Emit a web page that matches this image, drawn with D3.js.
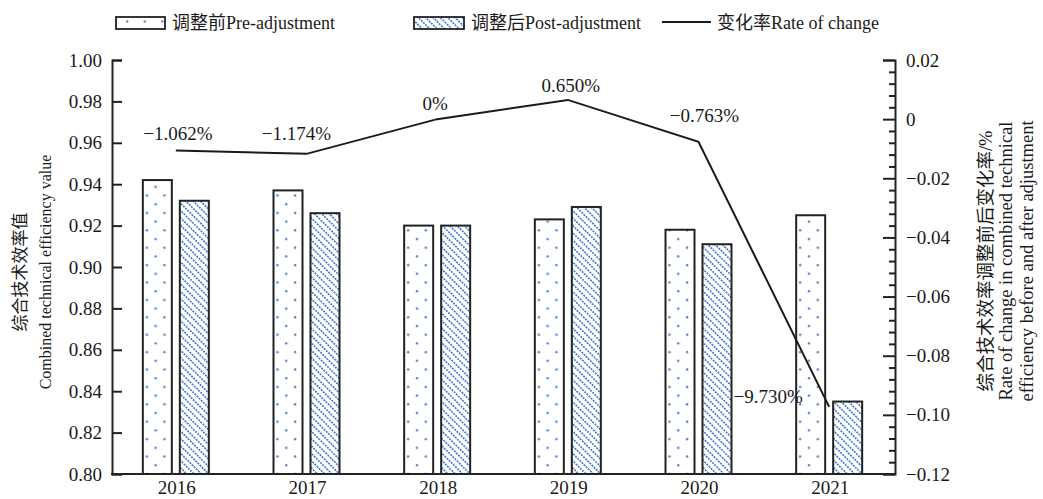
<!DOCTYPE html>
<html>
<head>
<meta charset="utf-8">
<script src="https://cdn.jsdelivr.net/npm/d3@7"></script>
<style>
  html, body { margin: 0; padding: 0; background: #fff; }
  svg { display: block; }
  text { font-family: "Liberation Serif", "Noto Sans CJK SC", serif; fill: #1a1a1a; }
</style>
</head>
<body>
<svg id="chart" width="1043" height="499"></svg>
<script>
// Combined technical efficiency before / after adjustment, 2016–2021
const years = ["2016", "2017", "2018", "2019", "2020", "2021"];
const preValues = [0.942, 0.937, 0.920, 0.923, 0.918, 0.925];
const postValues = [0.932, 0.926, 0.920, 0.929, 0.911, 0.835];
const changeRate = [-0.01062, -0.01174, 0, 0.0065, -0.00763, -0.0973];
const changeLabels = ["−1.062%", "−1.174%", "0%", "0.650%", "−0.763%", "−9.730%"];
const leftTicks = [0.80, 0.82, 0.84, 0.86, 0.88, 0.90, 0.92, 0.94, 0.96, 0.98, 1.00];
const rightTicks = [-0.12, -0.10, -0.08, -0.06, -0.04, -0.02, 0, 0.02];

const svg = d3.select("#chart");
const plot = { left: 112, right: 895, top: 60, bottom: 474 };

const x = d3.scaleBand().domain(years).range([110.5, 894.5]).padding(0);
const xInner = d3.scaleBand().domain(["pre", "post"]).range([0, 66]).paddingInner(0.216);
const yL = d3.scaleLinear().domain([0.80, 1.00]).range([plot.bottom, plot.top]);
const yR = d3.scaleLinear().domain([-0.12, 0.02]).range([plot.bottom, plot.top]);

// fill patterns
const defs = svg.append("defs");
const dots = defs.append("pattern").attr("id", "dots")
  .attr("patternUnits", "userSpaceOnUse").attr("width", 17.6).attr("height", 17.4);
dots.append("rect").attr("width", 17.6).attr("height", 17.4).attr("fill", "#fff");
dots.append("circle").attr("cx", 4).attr("cy", 4).attr("r", 1.2).attr("fill", "#4583cf");
dots.append("circle").attr("cx", 12.8).attr("cy", 12.7).attr("r", 1.2).attr("fill", "#4583cf");

const hatch = defs.append("pattern").attr("id", "hatch")
  .attr("patternUnits", "userSpaceOnUse").attr("width", 5.2).attr("height", 3)
  .attr("patternTransform", "rotate(-45)");
hatch.append("rect").attr("width", 5.2).attr("height", 3).attr("fill", "#fff");
hatch.append("line").attr("x1", 2.6).attr("x2", 2.6).attr("y1", 0).attr("y2", 3)
  .attr("stroke", "#3a77c8").attr("stroke-width", 1.6)
  .attr("stroke-dasharray", "2 1");

// bars
const groups = svg.append("g").selectAll("g").data(years).join("g")
  .attr("transform", d => `translate(${x(d) + x.bandwidth() / 2 - 33},0)`);

groups.append("rect")
  .attr("x", xInner("pre"))
  .attr("y", (d, i) => yL(preValues[i]))
  .attr("width", xInner.bandwidth())
  .attr("height", (d, i) => yL(0.80) - yL(preValues[i]))
  .attr("fill", "url(#dots)").attr("stroke", "#222").attr("stroke-width", 2);

groups.append("rect")
  .attr("x", xInner("post"))
  .attr("y", (d, i) => yL(postValues[i]))
  .attr("width", xInner.bandwidth())
  .attr("height", (d, i) => yL(0.80) - yL(postValues[i]))
  .attr("fill", "url(#hatch)").attr("stroke", "#222").attr("stroke-width", 2);

// axes
const fmtL = d3.format(".2f");
const fmtR = v => (v === 0 ? "0" : d3.format(".2f")(v));

const axL = svg.append("g").attr("transform", `translate(${plot.left},0)`)
  .call(d3.axisRight(yL).tickValues(leftTicks).tickSize(10).tickFormat(""));
const axR = svg.append("g").attr("transform", `translate(${plot.right},0)`)
  .call(d3.axisLeft(yR).tickValues(rightTicks).tickSize(12).tickFormat(""));
const axRminor = svg.append("g").attr("transform", `translate(${plot.right},0)`)
  .call(d3.axisLeft(yR).tickValues(d3.range(-0.12, 0.0201, 0.004)
      .filter(v => rightTicks.every(t => Math.abs(t - v) > 1e-6)))
    .tickSize(6).tickFormat(""));
[axL, axR, axRminor].forEach(a => {
  a.select(".domain").attr("stroke", "#222").attr("stroke-width", 2);
  a.selectAll(".tick line").attr("stroke", "#222").attr("stroke-width", 2);
});
axRminor.select(".domain").remove();

svg.append("line")
  .attr("x1", plot.left - 1).attr("x2", plot.right + 1)
  .attr("y1", plot.bottom).attr("y2", plot.bottom)
  .attr("stroke", "#222").attr("stroke-width", 2);

svg.append("g").selectAll("text").data(leftTicks).join("text")
  .attr("x", plot.left - 10).attr("y", d => yL(d) + 6.5)
  .attr("text-anchor", "end")
  .attr("font-size", 19).text(fmtL);

svg.append("g").selectAll("text").data(rightTicks).join("text")
  .attr("x", plot.right + 11).attr("y", d => yR(d) + 6.5)
  .attr("text-anchor", "start")
  .attr("font-size", 19).text(fmtR);

svg.append("g").selectAll("text").data(years).join("text")
  .attr("x", d => x(d) + x.bandwidth() / 2 + 1).attr("y", 494)
  .attr("text-anchor", "middle").attr("font-size", 19).text(d => d);

// rate-of-change line
const line = d3.line()
  .x((d, i) => x(years[i]) + x.bandwidth() / 2)
  .y(d => yR(d));
svg.append("path").datum(changeRate)
  .attr("d", line).attr("fill", "none")
  .attr("stroke", "#1a1a1a").attr("stroke-width", 2);

// value labels placed around each point
const labelShift = [[2, -11], [-10, -14], [-2, -9], [3, -8], [6, -20], [-61, -4]];
svg.append("g").selectAll("text").data(changeRate).join("text")
  .attr("x", (d, i) => x(years[i]) + x.bandwidth() / 2 + labelShift[i][0])
  .attr("y", (d, i) => yR(d) + labelShift[i][1])
  .attr("text-anchor", "middle").attr("font-size", 19)
  .text((d, i) => changeLabels[i]);

// axis titles
const leftTitle = svg.append("g").attr("transform", "translate(0,272)");
leftTitle.append("text").attr("transform", "translate(26,0) rotate(-90)")
  .attr("text-anchor", "middle")
  .attr("font-size", 17).text("综合技术效率值");
leftTitle.append("text").attr("transform", "translate(51,0) rotate(-90)")
  .attr("text-anchor", "middle")
  .attr("font-size", 16).text("Combined technical efficiency value");

const rightTitle = svg.append("g").attr("transform", "translate(0,261)");
[["综合技术效率调整前后变化率/%", 992, 18.5],
 ["Rate of change in combined technical", 1012, 18.5],
 ["efficiency before and after adjustment", 1033, 18.5]].forEach(([t, bx, fs]) => {
  rightTitle.append("text").attr("transform", `translate(${bx},0) rotate(-90)`)
    .attr("text-anchor", "middle")
    .attr("font-size", fs).text(t);
});

// legend
const legend = svg.append("g");
legend.append("rect").attr("x", 116).attr("y", 17).attr("width", 49).attr("height", 12)
  .attr("fill", "url(#dots)").attr("stroke", "#222").attr("stroke-width", 1.8);
legend.append("text").attr("x", 172).attr("y", 29).attr("font-size", 18).text("调整前Pre-adjustment");
legend.append("rect").attr("x", 414).attr("y", 17).attr("width", 50).attr("height", 12)
  .attr("fill", "url(#hatch)").attr("stroke", "#222").attr("stroke-width", 1.8);
legend.append("text").attr("x", 471).attr("y", 29).attr("font-size", 18).text("调整后Post-adjustment");
legend.append("line").attr("x1", 662).attr("x2", 711).attr("y1", 22).attr("y2", 22)
  .attr("stroke", "#1a1a1a").attr("stroke-width", 2);
legend.append("text").attr("x", 717).attr("y", 29).attr("font-size", 18).text("变化率Rate of change");
</script>
</body>
</html>
